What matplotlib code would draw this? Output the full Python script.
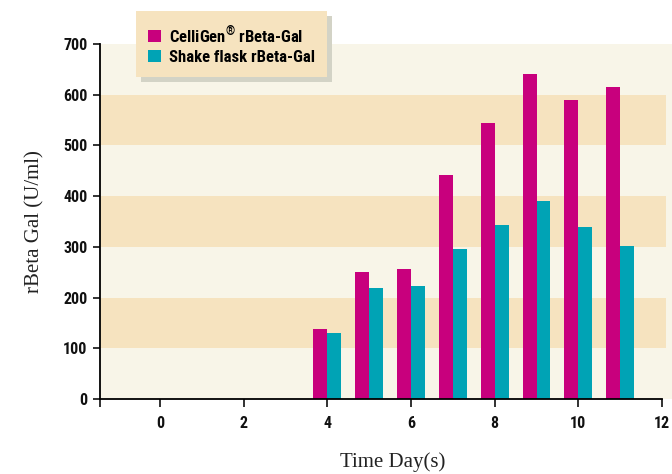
import matplotlib
matplotlib.use("Agg")
import matplotlib.pyplot as plt
from matplotlib import font_manager
import numpy as np

# ---- data ----
days = [4, 5, 6, 7, 8, 9, 10, 11]
celligen = [138, 251, 257, 441, 544, 641, 589, 615]
shake_flask = [130, 219, 223, 295, 344, 391, 340, 302]
series_labels = [r"CelliGen$^{\circledR}$ rBeta-Gal", "Shake flask rBeta-Gal"]
xticks = [0, 2, 4, 6, 8, 10, 12]
yticks = [0, 100, 200, 300, 400, 500, 600, 700]

MAGENTA = "#C8007D"
CYAN = "#00A3B5"
CREAM = "#F8F5E8"
BEIGE = "#F6E3BF"

_fl = font_manager.fontManager.ttflist
def _has_bold(name):
    return any(f.name == name and (f.weight if isinstance(f.weight, int) else 400) >= 700 for f in _fl)

narrow = "Liberation Sans"
for cand in ["Liberation Sans Narrow", "Roboto Condensed", "Archivo Narrow", "PT Sans Narrow",
             "Fira Sans Condensed", "IBM Plex Sans Condensed", "Open Sans Condensed",
             "Asap Condensed", "Encode Sans Condensed", "Saira SemiCondensed"]:
    if _has_bold(cand):
        narrow = cand
        break
serif = "Liberation Serif"

plt.rcParams["mathtext.fontset"] = "custom"
plt.rcParams["mathtext.rm"] = narrow + ":bold"
plt.rcParams["mathtext.bf"] = narrow + ":bold"

fig = plt.figure(figsize=(6.72, 4.74), dpi=100)
fig.patch.set_facecolor("white")
ax = fig.add_axes([100 / 672, 75 / 474, 572 / 672, 355 / 474])
ax.set_facecolor(CREAM)

ppd = (662 - 160) / 12.0
x0 = -(160 - 100) / ppd
x1 = x0 + 572 / ppd
ax.set_xlim(x0, x1)
ax.set_ylim(0, 700)

# horizontal bands
band_frac = (666 - 100) / 572
for lo in (100, 300, 500):
    ax.axhspan(lo, lo + 100, xmin=0, xmax=band_frac, color=BEIGE, lw=0, zorder=0)

w = 0.333
xs = np.array(days, dtype=float)
b1 = ax.bar(xs - w / 2, celligen, width=w, color=MAGENTA, zorder=2, label=series_labels[0])
b2 = ax.bar(xs + w / 2, shake_flask, width=w, color=CYAN, zorder=2, label=series_labels[1])

for s in ("top", "right"):
    ax.spines[s].set_visible(False)
ax.spines["left"].set_linewidth(1.3)
ax.spines["bottom"].set_linewidth(1.3)
ax.spines["bottom"].set_bounds(x0, 12)

ax.set_xticks(xticks)
ax.set_xticks([x0], minor=True)
ax.set_yticks(yticks)
ax.tick_params(axis="both", which="both", direction="out", length=6, width=1.3, color="#222222")
ax.tick_params(axis="x", pad=6)
ax.tick_params(axis="y", pad=4, length=5)
for lab in ax.get_xticklabels() + ax.get_yticklabels():
    lab.set_fontfamily(narrow)
    lab.set_fontweight("bold")
    lab.set_fontsize(11.5)
    lab.set_color("#111111")

ax.set_ylabel("rBeta Gal (U/ml)", fontfamily=serif, fontsize=15, color="#222222", va="center")
ax.yaxis.set_label_coords((35 - 100) / 572, 0.5)
ax.set_xlabel("Time Day(s)", fontfamily=serif, fontsize=15, color="#222222", va="center")
ax.xaxis.set_label_coords((393 - 100) / 572, -(462 - 399) / 355)

leg = ax.legend(handles=[b1, b2], loc="upper left",
                bbox_to_anchor=(136 / 672, 1 - 11 / 474), bbox_transform=fig.transFigure,
                borderaxespad=0, frameon=True, fancybox=False, framealpha=1,
                facecolor=BEIGE, edgecolor=BEIGE,
                shadow={"ox": 3.6, "oy": -3.6, "color": "#D3D3C6", "alpha": 1},
                prop={"family": narrow, "weight": "bold", "size": 12},
                handlelength=0.78, handleheight=0.72, handletextpad=0.5,
                labelspacing=0.28, borderpad=0.72)
leg.get_frame().set_linewidth(0)
leg.set_zorder(5)

fig.savefig("out.png", dpi=100, facecolor=fig.get_facecolor())
